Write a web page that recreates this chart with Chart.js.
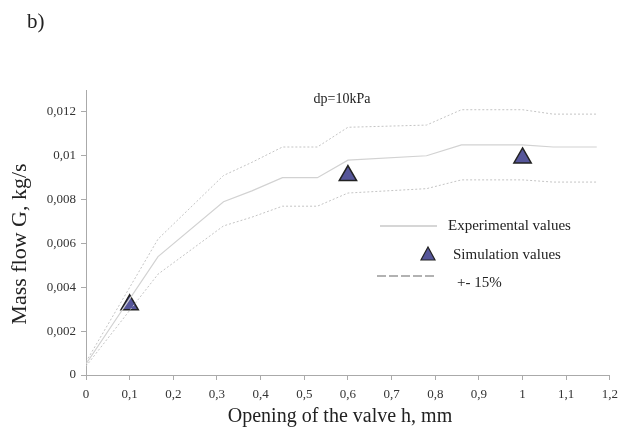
<!DOCTYPE html>
<html>
<head>
<meta charset="utf-8">
<title>Mass flow vs valve opening</title>
<script src="https://cdn.jsdelivr.net/npm/chart.js@4.4.1/dist/chart.umd.min.js"></script>
<style>
  html, body { margin: 0; padding: 0; background: #fff; }
  #wrap { width: 625px; height: 438px; position: relative; }
</style>
</head>
<body>
<div id="wrap"><canvas id="flowChart" width="625" height="438"></canvas></div>
<script>
// === Data ===
const openingMm = [0, 0.165, 0.315, 0.38, 0.45, 0.53, 0.6, 0.78, 0.86, 1.0, 1.07, 1.17];
const experimental = [0.0005, 0.0054, 0.0079, 0.0084, 0.0090, 0.0090, 0.0098, 0.0100, 0.0105, 0.0105, 0.0104, 0.0104];
const upperBand = [0.0006, 0.0062, 0.0091, 0.0097, 0.0104, 0.0104, 0.0113, 0.0114, 0.0121, 0.0121, 0.0119, 0.0119];
const lowerBand = [0.0004, 0.0046, 0.0068, 0.0072, 0.0077, 0.0077, 0.0083, 0.0085, 0.0089, 0.0089, 0.0088, 0.0088];

const simOpening = [0.1, 0.6, 1.0];
const simulation = [0.0032, 0.0091, 0.0099];

const xTicks = [0, 0.1, 0.2, 0.3, 0.4, 0.5, 0.6, 0.7, 0.8, 0.9, 1, 1.1, 1.2];
const yTicks = [0, 0.002, 0.004, 0.006, 0.008, 0.01, 0.012];

const SERIF = '"Liberation Serif", "DejaVu Serif", serif';
const triFill = '#56569a';

function toPoints(xs, ys) {
    return xs.map(function (x, i) { return { x: x, y: ys[i] }; });
}
function commaNum(v, digits) {
    const f = Math.pow(10, digits);
    return String(Math.round(v * f) / f).replace('.', ',');
}

// === Axis titles, labels + legend drawn on the canvas ===
const annotations = {
    id: 'annotations',
    afterDraw(chart) {
        const ctx = chart.ctx;
        ctx.save();
        ctx.fillStyle = '#222';
        ctx.textBaseline = 'middle';

        ctx.font = '21px ' + SERIF;
        ctx.textAlign = 'left';
        ctx.fillText('b)', 27, 22);

        ctx.font = '14px ' + SERIF;
        ctx.textAlign = 'center';
        ctx.fillText('dp=10kPa', 342, 99);

        // axis titles
        ctx.font = '20px ' + SERIF;
        ctx.fillText('Opening of the valve h, mm', 340, 417);

        ctx.save();
        ctx.translate(20, 244);
        ctx.rotate(-Math.PI / 2);
        ctx.font = '22px ' + SERIF;
        ctx.fillText('Mass flow G, kg/s', 0, 0);
        ctx.restore();

        // legend
        ctx.textAlign = 'left';
        ctx.font = '15px ' + SERIF;

        ctx.strokeStyle = '#c8c8c8';
        ctx.lineWidth = 1.5;
        ctx.beginPath();
        ctx.moveTo(380, 226);
        ctx.lineTo(437, 226);
        ctx.stroke();
        ctx.fillText('Experimental values', 448, 226);

        ctx.fillStyle = triFill;
        ctx.strokeStyle = '#222';
        ctx.lineWidth = 1.2;
        ctx.beginPath();
        ctx.moveTo(428, 247);
        ctx.lineTo(435, 260);
        ctx.lineTo(421, 260);
        ctx.closePath();
        ctx.fill();
        ctx.stroke();
        ctx.fillStyle = '#222';
        ctx.fillText('Simulation values', 453, 255);

        ctx.strokeStyle = '#999';
        ctx.lineWidth = 1.5;
        ctx.setLineDash([9, 3]);
        ctx.beginPath();
        ctx.moveTo(377, 276);
        ctx.lineTo(436, 276);
        ctx.stroke();
        ctx.setLineDash([]);
        ctx.fillText('+- 15%', 457, 283);

        ctx.restore();
    }
};

const ctx = document.getElementById('flowChart').getContext('2d');
const flowChart = new Chart(ctx, {
    type: 'scatter',
    data: {
        datasets: [
            {
                label: '+ 15%',
                data: toPoints(openingMm, upperBand),
                showLine: true,
                borderColor: '#c4c4c4',
                borderWidth: 1,
                borderDash: [2, 2],
                pointRadius: 0,
                tension: 0
            },
            {
                label: 'Experimental values',
                data: toPoints(openingMm, experimental),
                showLine: true,
                borderColor: '#d2d2d2',
                borderWidth: 1.2,
                pointRadius: 0,
                tension: 0
            },
            {
                label: '- 15%',
                data: toPoints(openingMm, lowerBand),
                showLine: true,
                borderColor: '#c4c4c4',
                borderWidth: 1,
                borderDash: [2, 2],
                pointRadius: 0,
                tension: 0
            },
            {
                label: 'Simulation values',
                data: toPoints(simOpening, simulation),
                showLine: false,
                pointStyle: 'triangle',
                pointRadius: 10,
                pointBackgroundColor: triFill,
                pointBorderColor: '#222',
                pointBorderWidth: 1.5
            }
        ]
    },
    options: {
        responsive: false,
        animation: false,
        layout: { padding: { top: 90, right: 15, left: 0, bottom: 0 } },
        plugins: {
            legend: { display: false },
            tooltip: { enabled: false }
        },
        scales: {
            x: {
                type: 'linear',
                min: 0,
                max: 1.2,
                afterFit: function (scale) { scale.height = 63; },
                afterBuildTicks: function (scale) {
                    scale.ticks = xTicks.map(function (v) { return { value: v }; });
                },
                grid: { drawOnChartArea: false, tickLength: 5, color: '#aaa' },
                border: { color: '#aaa' },
                ticks: {
                    color: '#333',
                    padding: 7,
                    maxRotation: 0,
                    font: { family: SERIF, size: 13 },
                    callback: function (v) { return commaNum(v, 1); }
                }
            },
            y: {
                type: 'linear',
                min: 0,
                max: 0.013,
                afterFit: function (scale) { scale.width = 86; },
                afterBuildTicks: function (scale) {
                    scale.ticks = yTicks.map(function (v) { return { value: v }; });
                },
                grid: { drawOnChartArea: false, tickLength: 5, color: '#aaa' },
                border: { color: '#aaa' },
                ticks: {
                    color: '#333',
                    padding: 5,
                    font: { family: SERIF, size: 13 },
                    callback: function (v) { return commaNum(v, 3); }
                }
            }
        }
    },
    plugins: [annotations]
});
</script>
</body>
</html>
